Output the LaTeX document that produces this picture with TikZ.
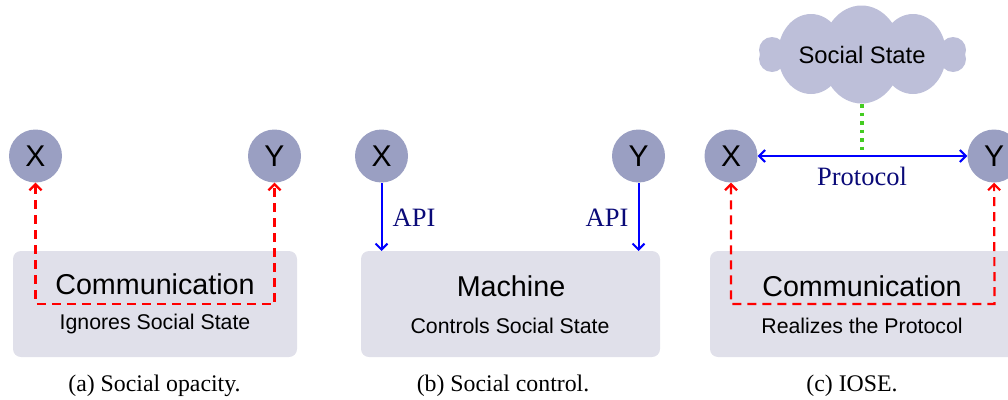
\documentclass[tikz,border=0pt]{standalone}
\usepackage{fontspec}
\setmainfont{Liberation Serif}
\setsansfont{Liberation Sans}
\usepackage{xcolor}
\usetikzlibrary{arrows.meta, positioning}
\definecolor{agentblue}{HTML}{9A9FC2}
\definecolor{boxgray}{HTML}{E0E0EA}
\definecolor{cloudblue}{HTML}{BDBFD9}
\definecolor{labelnavy}{HTML}{0A0A78}
\definecolor{dotgreen}{HTML}{44CC22}

\begin{document}
\begin{tikzpicture}[
      x=1pt, y=-1pt,
      agent/.style={circle, fill=agentblue, minimum size=53pt, inner sep=0pt, font=\sffamily\fontsize{30}{32}\selectfont},
      panel/.style={rounded corners=8pt, fill=boxgray, inner sep=0pt},
      title/.style={font=\sffamily\fontsize{28.7}{32}\selectfont},
      sub/.style={font=\sffamily\fontsize{21.3}{24}\selectfont},
      caption/.style={font=\fontsize{23.8}{26}\selectfont},
      apilabel/.style={text=labelnavy, font=\fontsize{26.5}{28}\selectfont},
      social/.style={{Straight Barb[length=6pt, width=12pt]}-{Straight Barb[length=6pt, width=12pt]}, red, dash pattern=on 9pt off 6pt, line width=2.2pt},
      api/.style={-{Straight Barb[length=6pt, width=12pt]}, blue, line width=2pt},
      lobe/.style={fill=cloudblue}
    ]
    \useasboundingbox (0,0) rectangle (1008,399);

    % (a)
    \node[panel, minimum width=284pt, minimum height=106pt] (boxa) at (155,304) {};
    \node[agent] (xa) at (35.5,156) {X};
    \node[agent] (ya) at (274.5,156) {Y};
    \node[title] (comma) at (155,284) {Communication};
    \node[sub] (ignores) at (155,324) {Ignores Social State};
    \coordinate (cornerxa) at (35.5,304);
    \coordinate (cornerya) at (274.5,304);
    \draw[social] (xa) -- (cornerxa) -- (cornerya) -- (ya);
    \node[caption] (capa) at (154.5,386) {(a) Social opacity.};

    % (b)
    \node[panel, minimum width=299pt, minimum height=106pt] (boxb) at (510.5,304) {};
    \node[agent] (xb) at (381.5,156) {X};
    \node[agent] (yb) at (638.5,156) {Y};
    \node[title] (machine) at (511,286) {Machine};
    \node[sub] (controls) at (510,326) {Controls Social State};
    \coordinate (topxb) at (381.5,251);
    \coordinate (topyb) at (638.5,251);
    \draw[api] (xb) -- (topxb);
    \draw[api] (yb) -- (topyb);
    \node[apilabel] at (414,218) {API};
    \node[apilabel] at (607,218) {API};
    \node[caption] (capb) at (503,386) {(b) Social control.};

    % (c)
    \fill[lobe] (861.5,54.5) ellipse [x radius=40pt, y radius=49pt];
    \fill[lobe] (811,54) ellipse [x radius=33pt, y radius=40pt];
    \fill[lobe] (913,54) ellipse [x radius=33pt, y radius=40pt];
    \fill[lobe] (772,50) circle (13pt);
    \fill[lobe] (772,59) circle (13pt);
    \fill[lobe] (953,50) circle (13pt);
    \fill[lobe] (953,59) circle (13pt);
    \node[font=\sffamily\fontsize{23.8}{26}\selectfont, inner sep=0pt] (state) at (862,55) {Social State};
    \coordinate (bottomstate) at (862,104);

    \node[panel, minimum width=310pt, minimum height=106pt] (boxc) at (865,304) {};
    \node[agent] (xc) at (731,156) {X};
    \node[agent] (yc) at (994,156) {Y};
    \coordinate (midc) at (862,156);
    \draw[dotgreen, line width=3.5pt, dash pattern=on 3.5pt off 5pt] (bottomstate) -- (midc);
    \draw[api, {Straight Barb[length=6pt, width=12pt]}-{Straight Barb[length=6pt, width=12pt]}] (xc) -- (yc);
    \node[apilabel] (protocol) at (862,176) {Protocol};
    \node[title] (commc) at (862,286) {Communication};
    \node[sub] (realizes) at (862,326) {Realizes the Protocol};
    \coordinate (cornerxc) at (731,304);
    \coordinate (corneryc) at (994.5,304);
    \draw[social] (xc) -- (cornerxc) -- (corneryc) -- (yc);
    \node[caption] (capc) at (852,386) {(c) IOSE.};
\end{tikzpicture}
\end{document}
